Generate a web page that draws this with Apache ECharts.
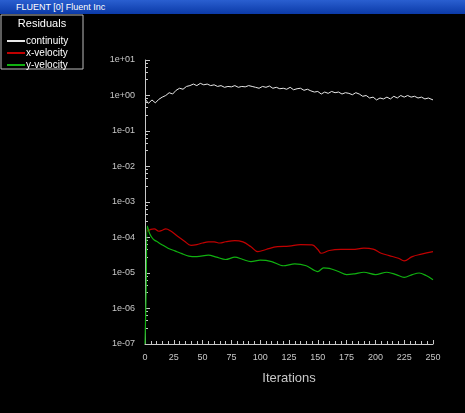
<!DOCTYPE html>
<html><head><meta charset="utf-8">
<script src="https://cdn.jsdelivr.net/npm/echarts@6/dist/echarts.min.js"></script>
<style>html,body{margin:0;padding:0;background:#000;}#c{width:465px;height:413px;}
#bar{position:absolute;left:0;top:0;width:465px;height:14px;background:linear-gradient(#2a5fd0,#0b3aa8);color:#fff;font:9px 'Liberation Sans';line-height:14px;text-indent:16px;}</style>
</head><body>
<div id="c"></div>
<div id="bar">FLUENT [0] Fluent Inc</div>
<script>
var title = "Residuals";
var xLabel = "Iterations";
var contIter = [0,3,6,9,12,15,18,21,24,27,30,33,36,39,42,45,48,51,54,57,60,63,66,69,72,75,78,81,84,87,90,93,96,99,102,105,108,111,114,117,120,123,126,129,132,135,138,141,144,147,150,153,156,159,162,165,168,171,174,177,180,183,186,189,192,195,198,201,204,207,210,213,216,219,222,225,228,231,234,237,240,243,246,250];
var contVal = [0.8,0.6,0.75,0.62,0.78,0.9,1.0,1.2,1.1,1.4,1.6,1.5,1.8,1.9,2.1,1.9,2.2,2.0,2.1,1.9,2.0,1.8,1.9,1.7,1.8,1.75,1.9,1.7,1.8,1.75,1.9,1.8,1.7,1.6,1.8,1.7,1.85,1.6,1.7,1.55,1.6,1.5,1.7,1.45,1.55,1.6,1.4,1.5,1.35,1.25,1.3,1.1,1.25,1.15,1.3,1.2,1.25,1.1,1.2,1.15,1.05,1.2,1.1,0.95,1.0,0.85,0.9,0.75,0.85,0.8,0.9,0.8,0.95,0.85,1.0,0.9,1.0,0.9,0.95,0.85,0.9,0.8,0.85,0.75];
var xvIter = [2,5,8,12,15,18,22,28,34,40,45,50,55,60,65,70,78,85,92,98,105,115,125,135,145,150,153,160,170,180,190,198,205,212,220,225,232,240,250];
var xvVal = [1.5e-4,1.7e-4,1.75e-4,1.5e-4,1.6e-4,1.75e-4,1.55e-4,1.1e-4,8e-5,6e-5,6.3e-5,7e-5,7.5e-5,7.5e-5,7e-5,7.6e-5,8.2e-5,7.5e-5,5.5e-5,4e-5,4.6e-5,5.5e-5,5.7e-5,6.3e-5,6.2e-5,4.6e-5,3.6e-5,4.3e-5,4.6e-5,4.6e-5,5e-5,4.7e-5,3.6e-5,3.1e-5,2.6e-5,2.2e-5,2.9e-5,3.4e-5,4e-5];
var yvIter = [0,1,2,4,6,8,10,14,20,26,32,38,45,55,62,70,78,85,92,100,110,120,130,140,150,155,160,168,175,182,190,200,210,218,225,232,238,244,250];
var yvVal = [1e-7,3e-6,2.1e-4,1.3e-4,1e-4,8.5e-5,7.8e-5,6.5e-5,5e-5,4.2e-5,3.5e-5,3e-5,2.9e-5,3.2e-5,2.8e-5,2.4e-5,2.8e-5,2.4e-5,2.1e-5,2.3e-5,2.1e-5,1.6e-5,1.8e-5,1.6e-5,1.1e-5,1.4e-5,1.35e-5,1.1e-5,9e-6,9.5e-6,1.05e-5,9e-6,1.05e-5,9e-6,7.5e-6,9e-6,1e-5,8.5e-6,6.5e-6];
function zip(a,b){return a.map(function(v,i){return [v,b[i]];});}
function fmt(v){var e=Math.round(Math.log10(v));var s=e<0?'-':'+';var a=Math.abs(e);return '1e'+s+(a<10?'0':'')+a;}
var chart = echarts.init(document.getElementById('c'));
var gray='#c8c8c8';
chart.setOption({
  backgroundColor:'#000',
  animation:false,
  graphic:[{type:'rect',shape:{x:1,y:15,width:82,height:54},style:{fill:'none',stroke:'#bbb',lineWidth:1}},
    {type:'text',style:{x:42,y:18,text:title,fill:'#fff',font:'11px Liberation Sans',textAlign:'center'}}],
  legend:{left:2,top:31,orient:'vertical',itemWidth:18,itemHeight:2,itemGap:2,icon:'rect',
    textStyle:{color:'#fff',fontSize:10,fontFamily:'Liberation Sans',padding:[0,0,0,-4]}},
  grid:{left:145,right:32,top:60,bottom:69},
  xAxis:{type:'value',min:0,max:250,interval:25,name:xLabel,nameLocation:'middle',nameGap:28,
    nameTextStyle:{color:gray,fontSize:13,fontFamily:'Liberation Sans'},
    axisLine:{lineStyle:{color:gray}},axisTick:{inside:true,length:4,lineStyle:{color:gray}},
    minorTick:{show:true,splitNumber:5,length:3,lineStyle:{color:gray}},
    axisLabel:{color:gray,fontSize:9,fontFamily:'Liberation Sans',margin:9},splitLine:{show:false}},
  yAxis:{type:'log',min:1e-7,max:10,logBase:10,
    axisLine:{show:true,lineStyle:{color:gray}},axisTick:{inside:true,length:5,lineStyle:{color:gray}},
    minorTick:{show:true,splitNumber:5,length:3,lineStyle:{color:gray}},
    axisLabel:{color:gray,fontSize:9,fontFamily:'Liberation Sans',formatter:fmt,margin:10},splitLine:{show:false}},
  series:[
    {name:'continuity',type:'line',showSymbol:false,data:zip(contIter,contVal),lineStyle:{color:'#e8e8e8',width:1},itemStyle:{color:'#e8e8e8'}},
    {name:'x-velocity',type:'line',showSymbol:false,smooth:0.4,data:zip(xvIter,xvVal),lineStyle:{color:'#c00000',width:1.2},itemStyle:{color:'#c00000'}},
    {name:'y-velocity',type:'line',showSymbol:false,smooth:0.3,data:zip(yvIter,yvVal),lineStyle:{color:'#10b010',width:1.2},itemStyle:{color:'#10b010'}}
  ]
});
</script></body></html>
